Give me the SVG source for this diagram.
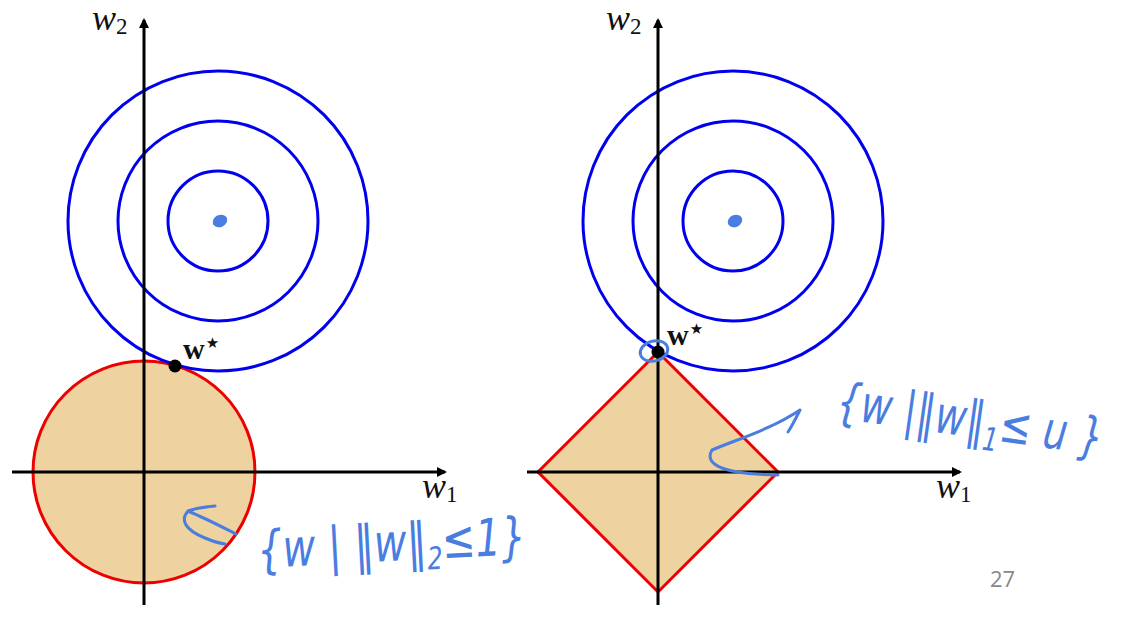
<svg xmlns="http://www.w3.org/2000/svg" width="1134" height="620" viewBox="0 0 1134 620">
<defs>
<marker id="ah" markerWidth="10" markerHeight="10" refX="8" refY="5" orient="auto" markerUnits="userSpaceOnUse" viewBox="0 0 10 10">
<path d="M0,0 L10,5 L0,10 z" fill="#000"/>
</marker>
</defs>
<style>
.axis{stroke:#000;stroke-width:3;fill:none}
.lvl{stroke:#0000ee;stroke-width:3;fill:none}
.con{stroke:#ee0000;stroke-width:3;fill:#eed3a0}
.lab{font-family:"Liberation Serif",serif;font-style:italic;font-size:36px;fill:#111}
.sub{font-family:"Liberation Serif",serif;font-style:normal;font-size:23px;fill:#111}
.ws{font-family:"Liberation Serif",serif;font-weight:bold;font-size:30px;fill:#111}
.star{font-family:"DejaVu Sans",sans-serif;font-weight:normal;font-size:15px}
.hand{font-family:"DejaVu Sans",sans-serif;font-style:italic;fill:#4a7de0}
.ink{stroke:#4a7de0;stroke-width:3;fill:none;stroke-linecap:round;stroke-linejoin:round}
</style>
<g id="left-plot">
<g id="left-constraint"><circle class="con" cx="144" cy="472" r="111"/></g>
<g id="left-levels">
<circle class="lvl" cx="218" cy="221" r="150"/>
<circle class="lvl" cx="218" cy="221" r="100"/>
<circle class="lvl" cx="218" cy="221" r="50"/>
<ellipse cx="220" cy="221" rx="7.5" ry="6" fill="#4a7de0" transform="rotate(-25 220 221)"/>
</g>
</g>
<g id="right-plot">
<g id="right-constraint"><polygon class="con" points="658,352 778,472 658,592 538,472"/></g>
<g id="right-levels">
<circle class="lvl" cx="733" cy="221" r="150"/>
<circle class="lvl" cx="733" cy="221" r="100"/>
<circle class="lvl" cx="733" cy="221" r="50"/>
<ellipse cx="735" cy="221" rx="7.5" ry="6" fill="#4a7de0" transform="rotate(-25 735 221)"/>
</g>
</g>
<g id="connectors">
<line class="axis" x1="144" y1="605" x2="144" y2="20" marker-end="url(#ah)"/>
<line class="axis" x1="12" y1="472" x2="445" y2="472" marker-end="url(#ah)"/>
<line class="axis" x1="658" y1="605" x2="658" y2="20" marker-end="url(#ah)"/>
<line class="axis" x1="527" y1="472" x2="960" y2="472" marker-end="url(#ah)"/>
</g>
<g id="labels">
<text class="lab" x="92" y="30">w<tspan class="sub" dy="4">2</tspan></text>
<text class="lab" x="422" y="498">w<tspan class="sub" dy="4">1</tspan></text>
<text class="lab" x="606" y="30">w<tspan class="sub" dy="4">2</tspan></text>
<text class="lab" x="936" y="498">w<tspan class="sub" dy="4">1</tspan></text>
</g>
<g id="w-star-left">
<circle cx="175" cy="366" r="6.5" fill="#000"/>
<text class="ws" x="183" y="359">w<tspan class="star" dx="1" dy="-11">★</tspan></text>
</g>
<g id="w-star-right">
<circle cx="658" cy="352" r="6.5" fill="#000"/>
<text class="ws" x="667" y="345">w<tspan class="star" dx="1" dy="-11">★</tspan></text>
<ellipse class="ink" cx="654" cy="351" rx="14" ry="10" transform="rotate(-15 654 351)" stroke-width="2.5"/>
</g>
<g id="annotation-left">
<path class="ink" d="M236,534 C220,526 205,518 190,512 M215,506 C205,507 195,508 188,511 C180,520 185,530 205,538 C212,541 218,543 225,544"/>
<text class="hand" font-size="40" transform="translate(258 568) rotate(-3) scale(1 1.3)">{w | ‖w‖<tspan font-size="24" dy="8">2</tspan><tspan dy="-8">≤1}</tspan></text>
</g>
<g id="annotation-right">
<path class="ink" d="M800,410 C770,430 735,440 712,450 C705,462 715,474 778,475 M800,410 C796,418 792,426 788,432"/>
<text class="hand" font-size="38" transform="translate(835 418) rotate(8) scale(1 1.35)">{w |‖w‖<tspan font-size="24" dy="8">1</tspan><tspan dy="-8">≤ u }</tspan></text>
</g>
<g id="page-number">
<text x="990" y="587" font-family="Open Sans, sans-serif" font-size="22" fill="#888">27</text>
</g>
</svg>
